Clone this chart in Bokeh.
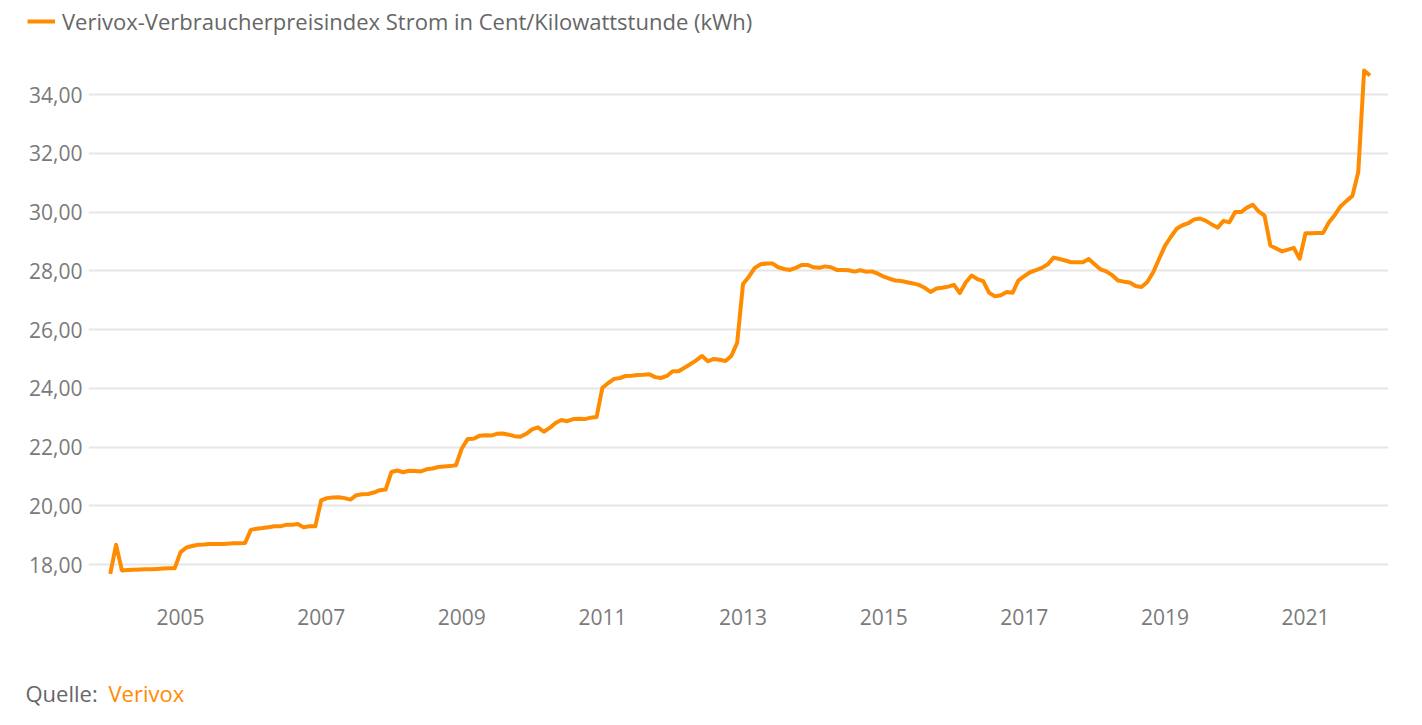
from bokeh.plotting import figure
from bokeh.layouts import column, row
from bokeh.models import (ColumnDataSource, FixedTicker, Legend, LegendItem, Label, Range1d)
from bokeh.embed import file_html
from bokeh.resources import INLINE

# ---- data (monthly, Jan 2004 .. Dec 2021) ----
years = list(range(2004, 2022))
prices_by_year = {
    2004: [17.68, 18.67, 17.80, 17.81, 17.82, 17.83, 17.84, 17.84, 17.85, 17.86, 17.87, 17.87],
    2005: [18.42, 18.58, 18.63, 18.67, 18.68, 18.70, 18.70, 18.70, 18.71, 18.72, 18.72, 18.73],
    2006: [19.18, 19.22, 19.24, 19.27, 19.30, 19.30, 19.35, 19.35, 19.38, 19.27, 19.30, 19.30],
    2007: [20.18, 20.26, 20.28, 20.29, 20.26, 20.21, 20.36, 20.39, 20.40, 20.45, 20.53, 20.55],
    2008: [21.15, 21.20, 21.14, 21.19, 21.18, 21.17, 21.24, 21.27, 21.32, 21.34, 21.35, 21.38],
    2009: [21.95, 22.27, 22.28, 22.38, 22.40, 22.39, 22.45, 22.46, 22.42, 22.37, 22.35, 22.45],
    2010: [22.60, 22.67, 22.52, 22.65, 22.82, 22.92, 22.88, 22.95, 22.96, 22.95, 23.00, 23.02],
    2011: [24.02, 24.18, 24.32, 24.35, 24.42, 24.43, 24.45, 24.46, 24.48, 24.38, 24.35, 24.42],
    2012: [24.58, 24.58, 24.70, 24.82, 24.95, 25.10, 24.92, 25.00, 24.97, 24.93, 25.10, 25.55],
    2013: [27.55, 27.80, 28.10, 28.22, 28.25, 28.25, 28.12, 28.06, 28.03, 28.10, 28.20, 28.20],
    2014: [28.12, 28.10, 28.15, 28.12, 28.03, 28.03, 28.02, 27.97, 28.02, 27.97, 27.98, 27.90],
    2015: [27.80, 27.73, 27.67, 27.65, 27.61, 27.57, 27.52, 27.42, 27.28, 27.40, 27.42, 27.46],
    2016: [27.52, 27.24, 27.60, 27.84, 27.72, 27.65, 27.25, 27.13, 27.17, 27.28, 27.25, 27.67],
    2017: [27.82, 27.95, 28.02, 28.10, 28.22, 28.45, 28.40, 28.35, 28.29, 28.29, 28.29, 28.40],
    2018: [28.22, 28.05, 27.98, 27.85, 27.67, 27.63, 27.60, 27.48, 27.45, 27.62, 27.95, 28.40],
    2019: [28.85, 29.15, 29.43, 29.55, 29.62, 29.75, 29.78, 29.70, 29.58, 29.47, 29.70, 29.65],
    2020: [30.00, 30.00, 30.15, 30.25, 30.02, 29.88, 28.86, 28.76, 28.66, 28.72, 28.78, 28.41],
    2021: [29.28, 29.28, 29.29, 29.29, 29.65, 29.90, 30.20, 30.38, 30.55, 31.36, 34.82, 34.65],
}
x_tick_years = [2005, 2007, 2009, 2011, 2013, 2015, 2017, 2019, 2021]
y_ticks = [18, 20, 22, 24, 26, 28, 30, 32, 34]
y_tick_labels = ["18,00", "20,00", "22,00", "24,00", "26,00", "28,00", "30,00", "32,00", "34,00"]
series_name = "Verivox-Verbraucherpreisindex Strom in Cent/Kilowattstunde (kWh)"
source_prefix = "Quelle: "
source_name = "Verivox"

dates = []
values = []
for y in years:
    for m, v in enumerate(prices_by_year[y]):
        dates.append(y + m / 12.0)
        values.append(v)

src = ColumnDataSource(dict(x=dates, y=values))

FONT = "Open Sans"
ORANGE = "#ff8c00"
TICK_GRAY = "#7a7a7a"
TEXT_GRAY = "#666666"
W = 1406


def strip(h):
    f = figure(width=W, height=h, output_backend="svg", toolbar_location=None,
               x_axis_type=None, y_axis_type=None, x_range=Range1d(0, 1), y_range=Range1d(0, 1),
               min_border=0, min_border_left=0, min_border_right=0,
               min_border_top=0, min_border_bottom=0)
    f.outline_line_color = None
    f.grid.visible = False
    return f


# ---- top strip: legend ----
top = strip(50)
legend_src = ColumnDataSource(dict(x=[0.5], y=[0.5]))  # single point: draws nothing, feeds legend
lr = top.line("x", "y", source=legend_src, line_color=ORANGE, line_width=4)
legend = Legend(items=[LegendItem(label=series_name, renderers=[lr])],
                location=(27, 14), orientation="horizontal",
                border_line_color=None, background_fill_alpha=0,
                padding=0, margin=0, glyph_width=28, glyph_height=24, label_height=24,
                label_standoff=7, label_text_font=FONT, label_text_font_size="22px",
                label_text_color=TEXT_GRAY)
top.add_layout(legend, "center")

# ---- main chart ----
p = figure(width=W, height=600, output_backend="svg", toolbar_location=None,
           x_range=Range1d(2003.691, 2022.18), y_range=Range1d(17.115, 35.5),
           min_border_left=88, min_border_right=W - 1388, min_border_top=0, min_border_bottom=60)
p.outline_line_color = None

p.line("x", "y", source=src, line_color=ORANGE, line_width=4, line_join="round")

p.xaxis.ticker = FixedTicker(ticks=x_tick_years)
p.yaxis.ticker = FixedTicker(ticks=y_ticks)
p.yaxis.major_label_overrides = {t: l for t, l in zip(y_ticks, y_tick_labels)}
p.xaxis.major_label_overrides = {t: str(t) for t in x_tick_years}
for ax in (p.xaxis, p.yaxis):
    ax.axis_line_color = None
    ax.major_tick_line_color = None
    ax.minor_tick_line_color = None
    ax.major_tick_out = 0
    ax.major_tick_in = 0
    ax.major_label_text_font = FONT
    ax.major_label_text_font_size = "21px"
    ax.major_label_text_color = TICK_GRAY
p.xaxis.major_label_standoff = 18
p.yaxis.major_label_standoff = 6

p.xgrid.grid_line_color = None
p.ygrid.grid_line_color = "#e6e6e6"
p.ygrid.grid_line_width = 2

# ---- bottom strip: source ----
bot = strip(70)
bot.add_layout(Label(x=25, y=28, x_units="screen", y_units="screen", text=source_prefix,
                     text_font=FONT, text_font_size="22px", text_color=TEXT_GRAY,
                     text_baseline="middle", text_align="left"))
bot.add_layout(Label(x=108, y=28, x_units="screen", y_units="screen", text=source_name,
                     text_font=FONT, text_font_size="22px", text_color=ORANGE,
                     text_baseline="middle", text_align="left"))

layout = column(row(top), p, row(bot), spacing=0)
open("out.html", "w").write(file_html(layout, INLINE))
